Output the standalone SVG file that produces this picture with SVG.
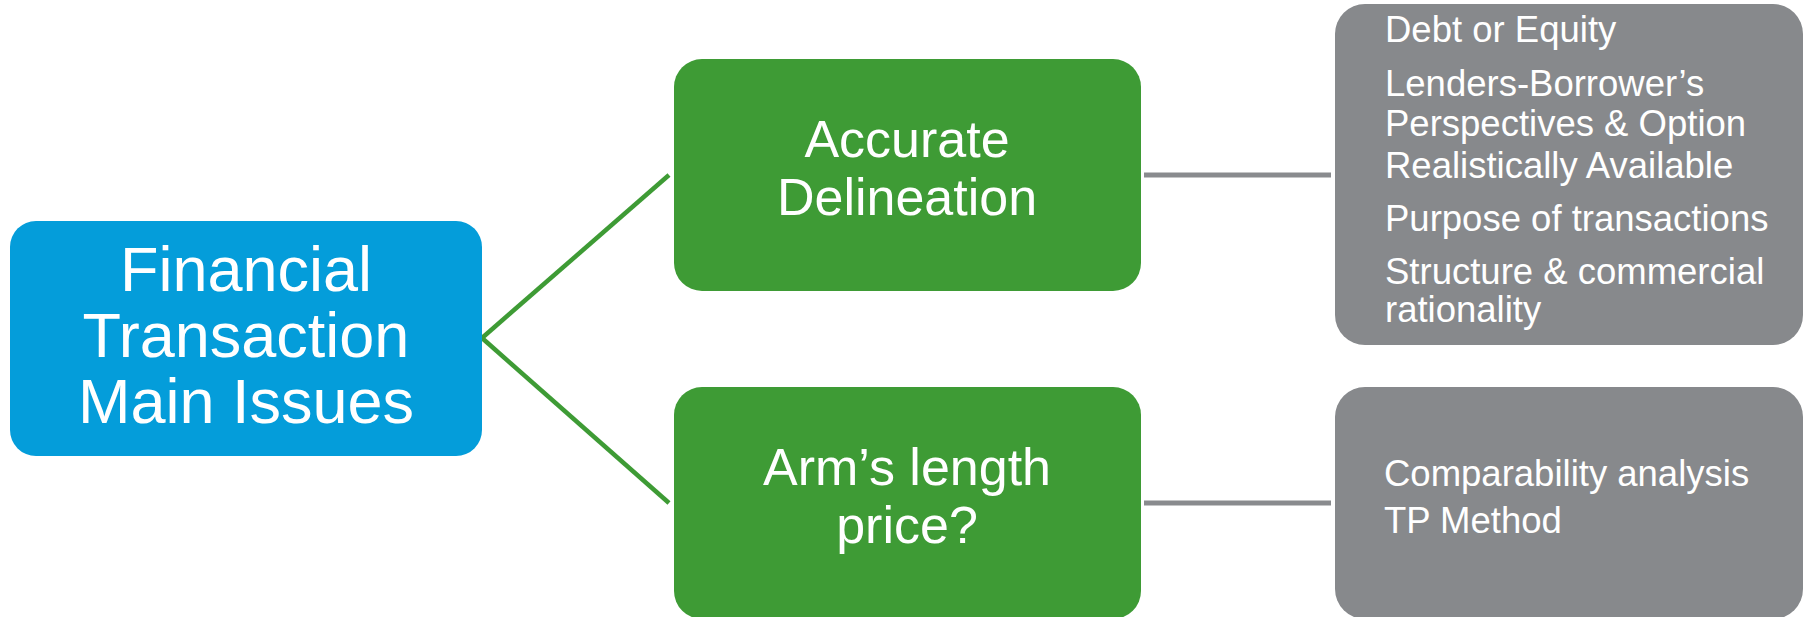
<svg xmlns="http://www.w3.org/2000/svg" width="1806" height="617" viewBox="0 0 1806 617">
  <style>
    .blue { fill: #049DDA; }
    .green { fill: #3E9B35; }
    .grey { fill: #87898C; }
    .lbl { font-family: "Liberation Sans", Arial, sans-serif; fill: #FFFFFF; }
    .big { font-size: 63px; text-anchor: middle; }
    .mid { font-size: 52px; text-anchor: middle; }
    .small { font-size: 36.5px; }
    .link-green { stroke: #3E9B35; stroke-width: 4.5; fill: none; }
    .link-grey { stroke: #898B8E; stroke-width: 5; fill: none; }
  </style>
  <rect width="1806" height="617" fill="#FFFFFF"/>

  <!-- connectors -->
  <g id="connectors">
    <line class="link-green" x1="482" y1="338" x2="669" y2="175"/>
    <line class="link-green" x1="482" y1="338" x2="669" y2="503"/>
    <line class="link-grey" x1="1144" y1="175" x2="1331" y2="175"/>
    <line class="link-grey" x1="1144" y1="503" x2="1331" y2="503"/>
  </g>

  <!-- root topic -->
  <g id="financial-transaction">
    <rect class="blue" x="10" y="221" width="472" height="235" rx="26" ry="26"/>
    <text class="lbl big" x="246" y="291">Financial</text>
    <text class="lbl big" x="246" y="357">Transaction</text>
    <text class="lbl big" x="246" y="423">Main Issues</text>
  </g>

  <!-- first issue -->
  <g id="accurate-delineation">
    <rect class="green" x="674" y="59" width="467" height="232" rx="28" ry="28"/>
    <text class="lbl mid" x="907" y="157">Accurate</text>
    <text class="lbl mid" x="907" y="215">Delineation</text>
  </g>

  <!-- second issue -->
  <g id="arms-length-price">
    <rect class="green" x="674" y="387" width="467" height="232" rx="28" ry="28"/>
    <text class="lbl mid" x="907" y="485">Arm’s length</text>
    <text class="lbl mid" x="907" y="543">price?</text>
  </g>

  <!-- details of the first issue -->
  <g id="delineation-details">
    <rect class="grey" x="1335" y="4" width="468" height="341" rx="30" ry="30"/>
    <text class="lbl small" x="1385" y="42">Debt or Equity</text>
    <text class="lbl small" x="1385" y="96">Lenders-Borrower’s</text>
    <text class="lbl small" x="1385" y="136">Perspectives &amp; Option</text>
    <text class="lbl small" x="1385" y="178">Realistically Available</text>
    <text class="lbl small" x="1385" y="231">Purpose of transactions</text>
    <text class="lbl small" x="1385" y="284">Structure &amp; commercial</text>
    <text class="lbl small" x="1385" y="322">rationality</text>
  </g>

  <!-- details of the second issue -->
  <g id="price-details">
    <rect class="grey" x="1335" y="387" width="468" height="232" rx="30" ry="30"/>
    <text class="lbl small" x="1384" y="486">Comparability analysis</text>
    <text class="lbl small" x="1384" y="533">TP Method</text>
  </g>
</svg>
